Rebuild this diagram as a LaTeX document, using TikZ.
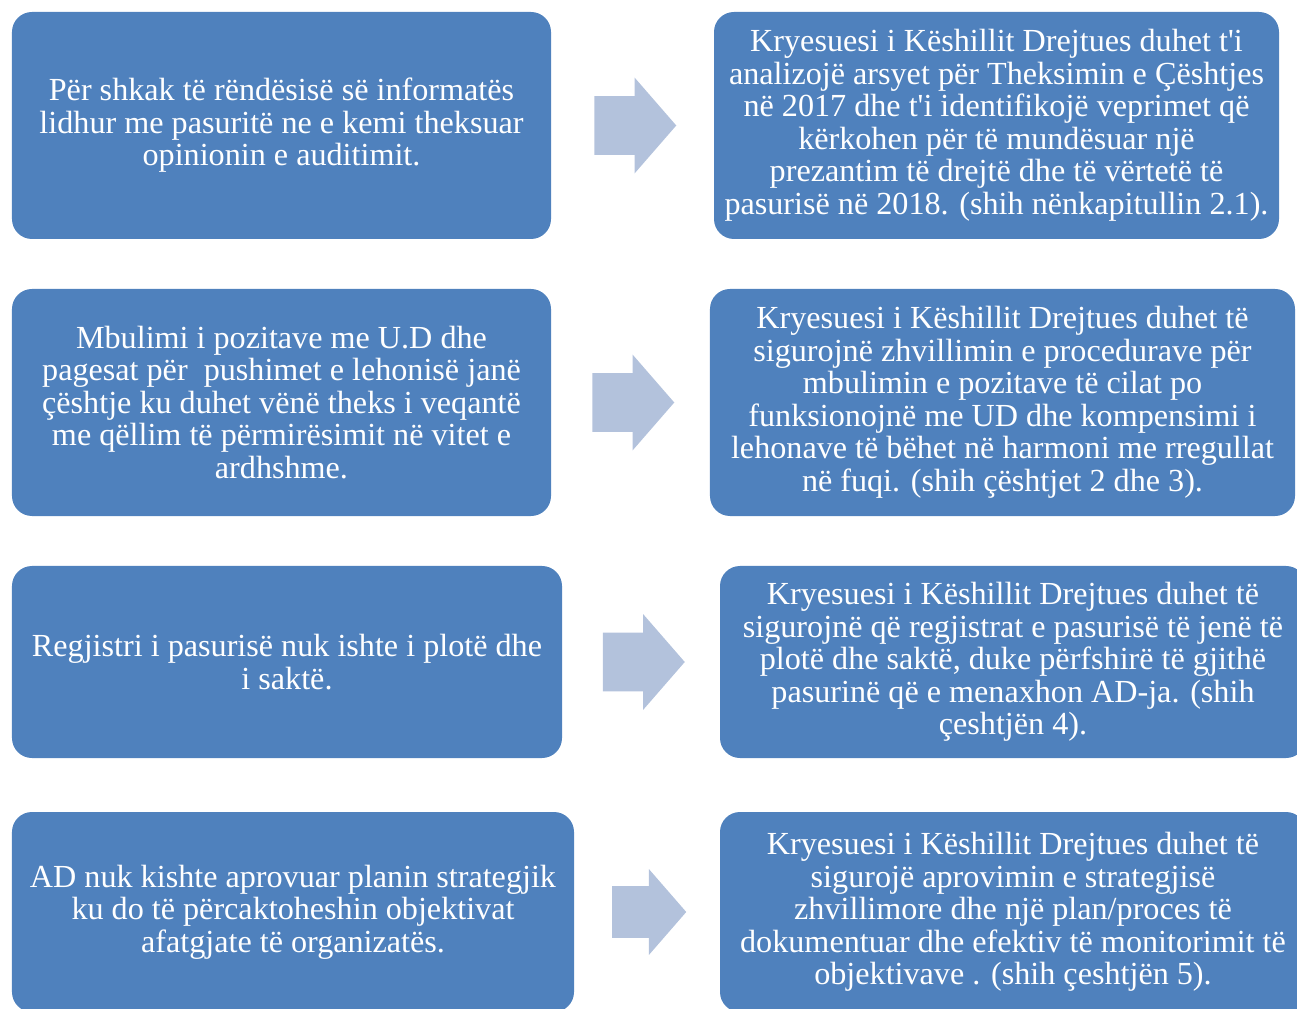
\documentclass[tikz,border=0pt]{standalone}
\usepackage{fontspec}
\setmainfont{Liberation Serif}
\usetikzlibrary{shapes.arrows,calc}
\definecolor{BoxBlue}{RGB}{79,129,189}
\definecolor{ArrowBlue}{RGB}{179,194,220}

\begin{document}
\begin{tikzpicture}[x=0.2mm,y=-0.2mm,box/.style={rectangle,rounded corners=4mm,fill=BoxBlue,text=white,align=center,inner sep=0pt,minimum height=45.4mm,font=\fontsize{18.3}{18.5}\selectfont},bigarrow/.style={single arrow,fill=ArrowBlue,inner xsep=0pt,inner ysep=5.8mm,minimum height=16.4mm,single arrow head extend=3.7mm,single arrow tip angle=98}]
\clip (0,0) rectangle (1297,1009);
\node[box,minimum width=107.8mm](l1) at (281.5,125.5){Për shkak të rëndësisë së informatës\\lidhur me pasuritë ne e kemi theksuar\\opinionin e auditimit.};
\node[box,minimum width=113mm](r1) at (996.5,125.5){Kryesuesi i Këshillit Drejtues duhet t\textquotesingle i\\analizojë arsyet për Theksimin e Çështjes\\në 2017 dhe t\textquotesingle i identifikojë veprimet që\\kërkohen për të mundësuar një\\prezantim të drejtë dhe të vërtetë të\\pasurisë në 2018. (shih nënkapitullin 2.1).};
\node[box,minimum width=107.8mm](l2) at (281.5,402.5){Mbulimi i pozitave me U.D dhe\\pagesat për\ \ pushimet e lehonisë janë\\çështje ku duhet vënë theks i veqantë\\me qëllim të përmirësimit në vitet e\\ardhshme.};
\node[box,minimum width=117mm](r2) at (1002.5,402.5){Kryesuesi i Këshillit Drejtues duhet të\\sigurojnë zhvillimin e procedurave për\\mbulimin e pozitave të cilat po\\funksionojnë me UD dhe kompensimi i\\lehonave të bëhet në harmoni me rregullat\\në fuqi. (shih çështjet 2 dhe 3).};
\node[box,minimum width=110mm,minimum height=38.4mm](l3) at (287,662){Regjistri i pasurisë nuk ishte i plotë dhe\\i saktë.};
\node[box,minimum width=117.2mm,minimum height=38.4mm](r3) at (1013,662){Kryesuesi i Këshillit Drejtues duhet të\\sigurojnë që regjistrat e pasurisë të jenë të\\plotë dhe saktë, duke përfshirë të gjithë\\pasurinë që e menaxhon AD-ja. (shih\\çeshtjën 4).};
\node[box,minimum width=112.4mm,minimum height=40mm](l4) at (293,912){AD nuk kishte aprovuar planin strategjik\\ku do të përcaktoheshin objektivat\\afatgjate të organizatës.};
\node[box,minimum width=117.2mm,minimum height=40mm](r4) at (1013,912){Kryesuesi i Këshillit Drejtues duhet të\\sigurojë aprovimin e strategjisë\\zhvillimore dhe një plan/proces të\\dokumentuar dhe efektiv të monitorimit të\\objektivave . (shih çeshtjën 5).};
\foreach \i in {1,2,3}{\node[bigarrow,xshift=-2mm](a\i) at ($(l\i.east)!.5!(r\i.west)$){};}
\node[bigarrow,xshift=-1.8mm,inner ysep=5.1mm,minimum height=14.8mm,single arrow head extend=3.4mm](a4) at ($(l4.east)!.5!(r4.west)$){};
\end{tikzpicture}
\end{document}
